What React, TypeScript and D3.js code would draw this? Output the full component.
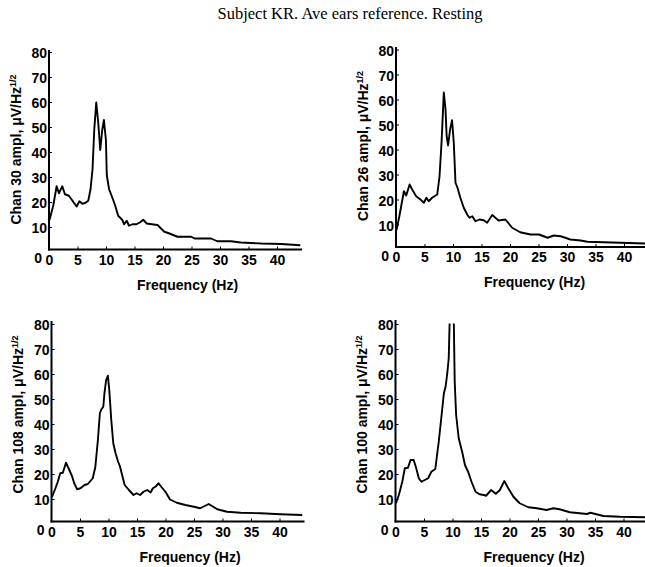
import React, { useEffect, useRef } from "react";
import * as d3 from "d3";

const TITLE = "Subject KR. Ave ears reference. Resting";
const CHANNELS = ["30", "26", "108", "100"];
const X_TICKS = [0, 5, 10, 15, 20, 25, 30, 35, 40];
const Y_TICKS = [0, 10, 20, 30, 40, 50, 60, 70, 80];

// amplitude spectra (Hz, uV/Hz^1/2)
const chan30Freq = [0, 0.65, 1.25, 1.65, 2.25, 2.7, 3.4, 3.85, 4.75, 5.25, 5.75, 6.25, 6.8, 7.2, 7.55, 7.85, 8.2, 8.55, 8.9, 9.25, 9.55, 9.9, 10.05, 10.45, 10.9, 11.45, 12.05, 12.75, 13.1, 13.55, 13.95, 14.55, 15.25, 15.85, 16.45, 17.05, 17.95, 18.95, 20.15, 21.05, 22.45, 24.85, 25.45, 28.35, 29.45, 31.85, 33.55, 37.15, 40.65, 44];
const chan30Amp = [13, 18.7, 26.5, 23.7, 26.5, 23.3, 22.7, 21.3, 18.4, 20.5, 19.5, 19.8, 20.7, 25.3, 33.3, 49, 60, 52, 41, 49, 53, 45, 31, 25.3, 22.7, 19.3, 14.7, 13.1, 11.3, 12.7, 10.7, 11.3, 11.3, 12, 13.1, 11.6, 11.3, 11, 8.3, 7.6, 6.3, 6.3, 5.6, 5.6, 4.5, 4.5, 4.0, 3.6, 3.4, 2.9];

const chan26Freq = [0, 0.5, 1.3, 1.7, 2.3, 2.75, 3.45, 4.2, 4.8, 5.25, 5.65, 6.25, 7.15, 7.55, 7.9, 8.3, 8.6, 8.8, 9.05, 9.4, 9.75, 10.05, 10.35, 10.7, 11.2, 11.8, 12.4, 12.8, 13.3, 13.85, 14.55, 15.3, 15.9, 16.8, 17.9, 19.1, 20.3, 21.7, 23.5, 25.0, 26.5, 27.6, 28.8, 30.5, 32.3, 33.5, 36.4, 39.3, 43.7];
const chan26Amp = [8, 13.5, 23.5, 21.8, 26.2, 24.2, 21.5, 20.2, 18.9, 20.9, 19.5, 20.9, 22.2, 29.5, 42.9, 63, 56.2, 45.5, 41.8, 48.2, 51.9, 42.9, 26.9, 24.9, 20.9, 16.9, 14.2, 12.9, 13.5, 11.5, 12.2, 11.9, 10.9, 14.0, 11.8, 12.2, 8.9, 7.1, 6.2, 6.2, 4.9, 5.8, 5.5, 4.2, 3.8, 3.3, 3.1, 2.9, 2.6];

const chan108Freq = [0, 0.6, 1.0, 1.45, 1.9, 2.45, 2.9, 3.5, 3.9, 4.4, 5.0, 5.7, 6.3, 7.15, 7.6, 8.05, 8.4, 8.65, 9.0, 9.2, 9.5, 9.8, 10.05, 10.4, 10.75, 11.15, 11.6, 11.9, 12.3, 12.75, 13.5, 14.3, 14.85, 15.45, 16.05, 16.7, 17.3, 17.7, 18.2, 18.7, 19.2, 19.9, 20.7, 21.9, 23.4, 24.9, 26.0, 27.5, 29.0, 30.7, 33.1, 36.6, 40.1, 43.9];
const chan108Amp = [11, 14.5, 17, 20.5, 20.7, 24.7, 22.5, 19.4, 16.5, 14.1, 14.5, 15.8, 16.2, 18.5, 23, 33.8, 44.5, 46, 47.1, 52.5, 57.8, 59.5, 53.8, 41.8, 32.5, 28.5, 25.1, 23.4, 19.8, 15.8, 13.8, 11.8, 12.5, 11.8, 13.1, 13.8, 12.8, 14.5, 15.2, 16.5, 15, 13.1, 10, 8.7, 7.8, 7.1, 6.5, 8.2, 6.1, 5.1, 4.7, 4.5, 4.1, 3.8];

const chan100Freq = [0, 0.5, 1.1, 1.55, 2.1, 2.55, 3.1, 3.55, 4.0, 4.45, 5.05, 5.65, 6.2, 6.9, 7.2, 7.5, 8.0, 8.4, 8.7, 9.0, 9.25, 9.4, 9.75, 10.15, 10.3, 10.55, 11.0, 11.6, 12.1, 12.65, 13.25, 13.95, 14.65, 15.4, 15.8, 16.7, 17.5, 18.2, 19.0, 19.7, 20.6, 21.7, 23.2, 24.7, 26.4, 27.6, 28.7, 30.5, 33.5, 34.1, 36.4, 39.3, 43.8];
const chan100Amp = [8.5, 11.8, 17.1, 22.5, 22.7, 25.8, 25.8, 22.5, 18.5, 17.1, 17.8, 18.5, 21.1, 22.2, 27.8, 33.1, 43.8, 52.5, 55.1, 60.5, 66.5, 80, 95, 80, 57.1, 43.8, 34.5, 29.1, 23.8, 21.1, 17.1, 13.1, 12.1, 11.8, 11.5, 13.8, 12.3, 13.7, 17.4, 14.5, 11.1, 8.5, 6.9, 6.5, 5.8, 6.5, 6.1, 4.9, 4.2, 4.7, 3.4, 3.1, 2.9];

const SERIES = [
  [chan30Freq, chan30Amp],
  [chan26Freq, chan26Amp],
  [chan108Freq, chan108Amp],
  [chan100Freq, chan100Amp],
];

// where each small panel sits on the page
const LAYOUT = [
  { axisX: 49, axisY: 249.5, top: 50, labelDy: -100 },
  { axisX: 396, axisY: 247, top: 47, labelDy: -101 },
  { axisX: 51.5, axisY: 521.5, top: 321, labelDy: -107 },
  { axisX: 395.5, axisY: 521.5, top: 320, labelDy: -107 },
];

const FONT = "'Liberation Sans', Arial, Helvetica, sans-serif";
const PX_PER_HZ = 5.7;

export default function App() {
  const ref = useRef<SVGSVGElement>(null);

  useEffect(() => {
    const svg = d3.select(ref.current);
    svg.selectAll("*").remove();

    svg.append("text")
      .attr("x", 350).attr("y", 19)
      .attr("text-anchor", "middle")
      .style("font-family", "'Liberation Serif', 'Times New Roman', serif")
      .style("font-size", "16.5px")
      .text(TITLE);

    LAYOUT.forEach((L, i) => {
      const [freq, amp] = SERIES[i];
      const x = d3.scaleLinear().domain([0, 44]).range([L.axisX + 0.5, L.axisX + 0.5 + PX_PER_HZ * 44]);
      const y = d3.scaleLinear().domain([0, 80]).range([L.axisY + 3, L.axisY + 3 - 200]);
      const g = svg.append("g");

      const clipId = "clip" + i;
      g.append("clipPath").attr("id", clipId)
        .append("rect")
        .attr("x", L.axisX).attr("y", y(80) - 1)
        .attr("width", x(44.3) - L.axisX + 2).attr("height", L.axisY - y(80) + 1);

      const line = d3.line<number>()
        .x((_, k) => x(freq[k]))
        .y(d => y(d));

      g.append("path")
        .datum(amp)
        .attr("clip-path", `url(#${clipId})`)
        .attr("d", line)
        .attr("fill", "none")
        .attr("stroke", "#000")
        .attr("stroke-width", 1.9)
        .attr("stroke-linejoin", "round");

      // axes
      g.append("line")
        .attr("x1", L.axisX).attr("x2", L.axisX)
        .attr("y1", L.top).attr("y2", L.axisY + 1)
        .attr("stroke", "#000").attr("stroke-width", 2);
      g.append("line")
        .attr("x1", L.axisX - 1).attr("x2", x(44.3))
        .attr("y1", L.axisY).attr("y2", L.axisY)
        .attr("stroke", "#000").attr("stroke-width", 2);

      g.selectAll(".xt").data(X_TICKS.slice(1)).enter().append("line")
        .attr("x1", d => x(d)).attr("x2", d => x(d))
        .attr("y1", L.axisY).attr("y2", L.axisY - 3)
        .attr("stroke", "#000").attr("stroke-width", 1);
      g.selectAll(".yt").data(Y_TICKS.slice(1)).enter().append("line")
        .attr("x1", L.axisX).attr("x2", L.axisX + 3)
        .attr("y1", d => y(d)).attr("y2", d => y(d))
        .attr("stroke", "#000").attr("stroke-width", 1);

      g.selectAll(".xl").data(X_TICKS).enter().append("text")
        .attr("x", d => x(d)).attr("y", L.axisY + 15)
        .attr("text-anchor", "middle")
        .style("font-family", FONT).style("font-size", "14px").style("font-weight", "bold")
        .text(d => d);

      g.selectAll(".yl").data(Y_TICKS).enter().append("text")
        .attr("x", d => d === 0 ? L.axisX - 7 : L.axisX - 2)
        .attr("y", d => d === 0 ? y(d) + 6 : y(d) + 1)
        .attr("dy", "0.35em")
        .attr("text-anchor", "end")
        .style("font-family", FONT).style("font-size", "14px").style("font-weight", "bold")
        .text(d => d);

      g.append("text")
        .attr("x", L.axisX + 138.5).attr("y", L.axisY + 40)
        .attr("text-anchor", "middle")
        .style("font-family", FONT).style("font-size", "14px").style("font-weight", "bold")
        .text("Frequency (Hz)");

      const yl = g.append("text")
        .attr("transform", `translate(${L.axisX - 33},${L.axisY + L.labelDy}) rotate(-90)`)
        .attr("text-anchor", "middle")
        .attr("dy", "0.35em")
        .style("font-family", FONT).style("font-size", "14px").style("font-weight", "bold");
      yl.append("tspan").text(`Chan ${CHANNELS[i]} ampl, \u03bcV/Hz`);
      yl.append("tspan").attr("dy", -5).style("font-size", "9px").text("1/2");
    });
  }, []);

  return (
    <svg ref={ref} width={645} height={567}
      style={{ position: "absolute", left: 0, top: 0, background: "#fff" }} />
  );
}
